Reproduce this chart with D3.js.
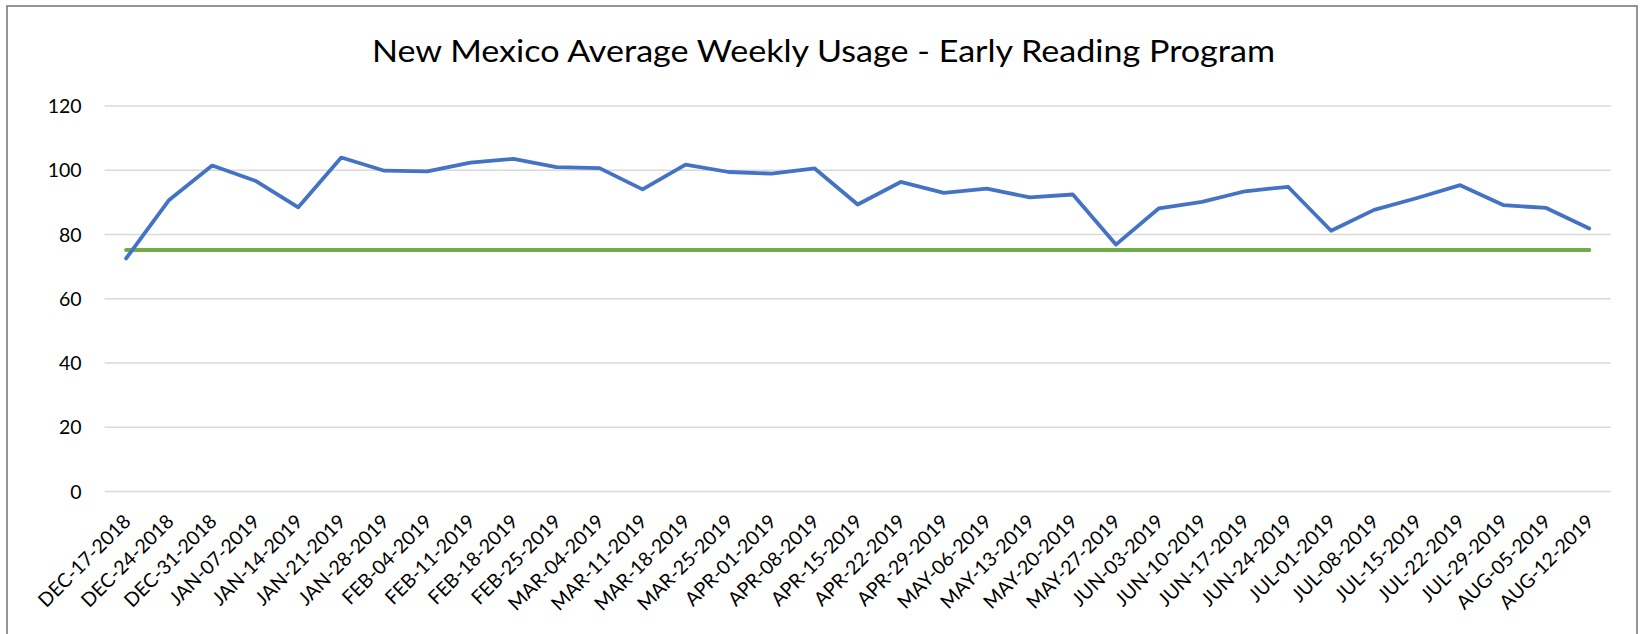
<!DOCTYPE html>
<html>
<head>
<meta charset="utf-8">
<script src="https://cdn.jsdelivr.net/npm/d3@7"></script>
<style>
  html, body { margin: 0; padding: 0; background: #fff; }
  svg { display: block; }
  text { font-family: Lato, "Noto Sans", sans-serif; fill: #000; }
</style>
</head>
<body>
<svg id="chart" width="1640" height="634"></svg>
<script>
const titleText = "New Mexico Average Weekly Usage - Early Reading Program";

const categories = [
  "DEC-17-2018","DEC-24-2018","DEC-31-2018","JAN-07-2019","JAN-14-2019","JAN-21-2019","JAN-28-2019",
  "FEB-04-2019","FEB-11-2019","FEB-18-2019","FEB-25-2019","MAR-04-2019","MAR-11-2019","MAR-18-2019",
  "MAR-25-2019","APR-01-2019","APR-08-2019","APR-15-2019","APR-22-2019","APR-29-2019","MAY-06-2019",
  "MAY-13-2019","MAY-20-2019","MAY-27-2019","JUN-03-2019","JUN-10-2019","JUN-17-2019","JUN-24-2019",
  "JUL-01-2019","JUL-08-2019","JUL-15-2019","JUL-22-2019","JUL-29-2019","AUG-05-2019","AUG-12-2019"
];

const usage = [
  72.4, 90.6, 101.3, 96.6, 88.3, 103.8, 99.7,
  99.5, 102.2, 103.4, 100.8, 100.5, 93.9, 101.6,
  99.3, 98.8, 100.4, 89.2, 96.2, 92.8, 94.1,
  91.4, 92.3, 76.7, 88.0, 90.0, 93.3, 94.7,
  81.0, 87.5, 91.2, 95.2, 89.0, 88.1, 81.7
];

const target = categories.map(() => 75);

const yTicks = [0, 20, 40, 60, 80, 100, 120];

const svg = d3.select("#chart");

// Outer chart border
svg.append("rect")
  .attr("x", 7).attr("y", 6)
  .attr("width", 1630).attr("height", 640)
  .attr("fill", "#fff")
  .attr("stroke", "#7a7a7a")
  .attr("stroke-width", 1.6);

const plot = { left: 104.6, right: 1610.8, top: 105.5, bottom: 491 };

const x = d3.scaleBand()
  .domain(categories)
  .range([plot.left, plot.right])
  .paddingInner(0).paddingOuter(0);

const y = d3.scaleLinear()
  .domain([0, 120])
  .range([plot.bottom, plot.top]);

const cx = d => x(d) + x.bandwidth() / 2;

// Title
svg.append("text")
  .attr("x", 823.5)
  .attr("y", 61.7)
  .attr("text-anchor", "middle")
  .attr("font-size", 31.5)
  .attr("textLength", 903)
  .attr("lengthAdjust", "spacingAndGlyphs")
  .text(titleText);

// Gridlines + y labels via axis
const yAxis = d3.axisLeft(y)
  .tickValues(yTicks)
  .tickSize(-(plot.right - plot.left))
  .tickPadding(23)
  .tickFormat(d3.format("d"));

const gy = svg.append("g")
  .attr("transform", `translate(${plot.left},0)`)
  .call(yAxis);
gy.select(".domain").remove();
gy.selectAll(".tick line")
  .attr("stroke", "#d9d9d9")
  .attr("stroke-width", 1.5);
gy.selectAll(".tick text")
  .attr("font-family", "Lato, 'Noto Sans', sans-serif")
  .attr("font-size", 19.5)
  .attr("fill", "#000")
  .attr("dy", "0.36em");

// X axis labels
const xAxis = d3.axisBottom(x).tickSize(0).tickPadding(0);
const gx = svg.append("g")
  .attr("transform", `translate(0,${plot.bottom})`)
  .call(xAxis);
gx.select(".domain").remove();
gx.selectAll(".tick text")
  .attr("font-family", "Lato, 'Noto Sans', sans-serif")
  .attr("font-size", 19.5)
  .attr("fill", "#000")
  .attr("text-anchor", "end")
  .attr("y", 0)
  .attr("dy", "0.35em")
  .attr("transform", "translate(1,27) rotate(-45)");

// Target line
const line = d3.line()
  .x((d, i) => cx(categories[i]))
  .y(d => y(d));

svg.append("path")
  .datum(target)
  .attr("d", line)
  .attr("fill", "none")
  .attr("stroke", "#70ad47")
  .attr("stroke-width", 4)
  .attr("stroke-linecap", "round");

// Usage line
svg.append("path")
  .datum(usage)
  .attr("d", line)
  .attr("fill", "none")
  .attr("stroke", "#4472c4")
  .attr("stroke-width", 3.8)
  .attr("stroke-linejoin", "round")
  .attr("stroke-linecap", "round");
</script>
</body>
</html>
